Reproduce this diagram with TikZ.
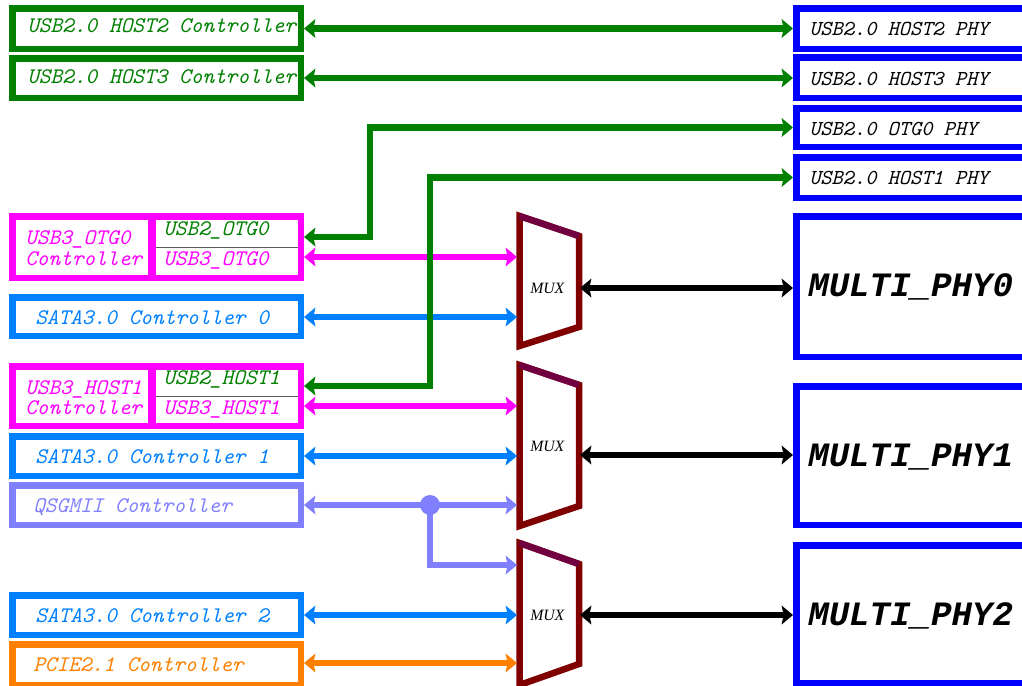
\documentclass[tikz,border=0pt]{standalone}
\usepackage{fontspec}
\setmainfont{Liberation Serif}
\newfontfamily\multifont{Liberation Mono}
\usetikzlibrary{arrows.meta,fit,calc}
\definecolor{ggreen}{RGB}{0,128,0}
\definecolor{mag}{RGB}{255,0,255}
\definecolor{sblue}{RGB}{0,128,255}
\definecolor{lav}{RGB}{128,128,255}
\definecolor{orng}{RGB}{255,128,0}
\definecolor{pblue}{RGB}{0,0,255}
\definecolor{muxred}{RGB}{128,0,0}
\definecolor{muxtop}{RGB}{112,0,64}
\definecolor{divgray}{RGB}{90,90,90}
\tikzset{
  x=0.75pt, y=-0.75pt,
  >={Stealth[length=8.5pt,width=14pt,inset=1.5pt]},
  bx/.style={draw=#1, line width=4.875pt, inner sep=0pt},
  lbl/.style={anchor=base west, inner sep=0pt, text=#1,
    font=\fontsize{16.7}{18}\selectfont\ttfamily\itshape},
  plbl/.style={anchor=base west, inner sep=0pt, text=black,
    font=\fontsize{16}{18}\selectfont\ttfamily\itshape},
  mlbl/.style={anchor=base west, inner sep=0pt, text=black,
    font=\fontsize{25.6}{28}\selectfont\multifont\bfseries\itshape},
  muxlbl/.style={anchor=base west, inner sep=0pt, text=black,
    font=\fontsize{11.8}{13}\selectfont\itshape},
  con/.style={draw=#1, line width=4.875pt},
  muxshape/.style={draw=muxred, line width=4.875pt, line join=miter},
}
\begin{document}
\begin{tikzpicture}
\useasboundingbox (0,0) rectangle (1022,686);
\clip (0,0) rectangle (1022,686);

% ---------- left controller boxes ----------
\node[bx=ggreen, fit={(12.25,8.25) (300.75,48.75)}] (c2) {};
\node[bx=ggreen, fit={(12.25,58.25) (300.75,97.75)}] (c3) {};
\node[bx=mag, fit={(12.25,216.25) (300.75,277.75)}] (otg) {};
\node[bx=sblue, fit={(12.25,297.25) (300.75,335.75)}] (sata0) {};
\node[bx=mag, fit={(12.25,366.25) (300.75,425.75)}] (host1) {};
\node[bx=sblue, fit={(12.25,436.25) (300.75,475.75)}] (sata1) {};
\node[bx=lav, fit={(12.25,485.25) (300.75,524.75)}] (qsg) {};
\node[bx=sblue, fit={(12.25,595.25) (300.75,634.75)}] (sata2) {};
\node[bx=orng, fit={(12.25,644.25) (300.75,685)}] (pcie) {};

% dividers in the USB3 boxes
\draw[mag, line width=6pt] (152,216.25) -- (152,277.75);
\draw[divgray, line width=0.9pt] (156,247.5) -- (298,247.5);
\draw[mag, line width=6pt] (152,366.25) -- (152,425.75);
\draw[divgray, line width=0.9pt] (156,396.5) -- (298,396.5);

% ---------- right PHY boxes ----------
\node[bx=pblue, fit={(796.25,8.25) (1040,48.75)}] (p2) {};
\node[bx=pblue, fit={(796.25,57.25) (1040,97.75)}] (p3) {};
\node[bx=pblue, fit={(796.25,108.25) (1040,146.75)}] (potg) {};
\node[bx=pblue, fit={(796.25,157.25) (1040,197.75)}] (p1) {};
\node[bx=pblue, fit={(796.25,216.25) (1040,356.75)}] (m0) {};
\node[bx=pblue, fit={(796.25,386.25) (1040,524.75)}] (m1) {};
\node[bx=pblue, fit={(796.25,545.25) (1040,682.75)}] (m2) {};

% ---------- texts ----------
\node[lbl=ggreen] (t1) at (27,32.5) {USB2.0 HOST2 Controller};
\node[lbl=ggreen] (t2) at (27,83) {USB2.0 HOST3 Controller};
\node[lbl=mag] (t3) at (25,244) {USB3\_OTG0};
\node[lbl=mag] (t4) at (25,265) {Controller};
\node[lbl=ggreen] (t5) at (163,235) {USB2\_OTG0};
\node[lbl=mag] (t6) at (163,265) {USB3\_OTG0};
\node[lbl=sblue] (t7) at (35,324) {SATA3.0 Controller 0};
\node[lbl=mag] (t8) at (25,394) {USB3\_HOST1};
\node[lbl=mag] (t9) at (25,414.5) {Controller};
\node[lbl=ggreen] (t10) at (163,384.5) {USB2\_HOST1};
\node[lbl=mag] (t11) at (163,414.5) {USB3\_HOST1};
\node[lbl=sblue] (t12) at (35,463.5) {SATA3.0 Controller 1};
\node[lbl=lav] (t13) at (33,512) {QSGMII Controller};
\node[lbl=sblue] (t14) at (35,622.5) {SATA3.0 Controller 2};
\node[lbl=orng] (t15) at (33,671.5) {PCIE2.1 Controller};

\node[plbl] (t16) at (809,35) {USB2.0 HOST2 PHY};
\node[plbl] (t17) at (809,85) {USB2.0 HOST3 PHY};
\node[plbl] (t18) at (809,135) {USB2.0 OTG0 PHY};
\node[plbl] (t19) at (809,184) {USB2.0 HOST1 PHY};
\node[mlbl] (t20) at (808,296.7) {MULTI\_PHY0};
\node[mlbl] (t21) at (808,466.5) {MULTI\_PHY1};
\node[mlbl] (t22) at (808,625) {MULTI\_PHY2};

% ---------- MUX shapes ----------
\draw[muxshape] (519.5,216) -- (579,236) -- (579,327) -- (519.5,346) -- cycle;
\draw[muxtop, line width=4.875pt] (519.5,216) -- (579,236);
\draw[muxshape] (519.5,365) -- (579,385) -- (579,506) -- (519.5,526) -- cycle;
\draw[muxtop, line width=4.875pt] (519.5,365) -- (579,385);
\draw[muxshape] (519.5,543) -- (579,564) -- (579,664) -- (519.5,685) -- cycle;
\draw[muxtop, line width=4.875pt] (519.5,543) -- (579,564);
\node[muxlbl] (mux0) at (530,293.3) {MUX};
\node[muxlbl] (mux1) at (530,451.7) {MUX};
\node[muxlbl] (mux2) at (530,620) {MUX};

% MUX ports
\coordinate (mux0a) at (517,257);
\coordinate (mux0b) at (517,317);
\coordinate (mux1a) at (517,406);
\coordinate (mux1b) at (517,456);
\coordinate (mux1c) at (517,505);
\coordinate (mux2a) at (517,565);
\coordinate (mux2b) at (517,615);
\coordinate (mux2c) at (517,663);
\coordinate (mux0o) at (580,288);
\coordinate (mux1o) at (580,455);
\coordinate (mux2o) at (580,615);
\coordinate (b0) at (370,237);
\coordinate (b1) at (430,386);

% ---------- connectors ----------
\draw[con=mag,<->] (otg.east |- mux0a) -- (mux0a);
\draw[con=sblue,<->] (sata0.east |- mux0b) -- (mux0b);
\draw[con=mag,<->] (host1.east |- mux1a) -- (mux1a);
\draw[con=sblue,<->] (sata1.east |- mux1b) -- (mux1b);
\draw[con=lav,<->] (qsg.east |- mux1c) -- (mux1c);
\node[circle, fill=lav, inner sep=0pt, minimum size=15pt] (dot) at (430,505) {};
\draw[con=lav,->] (dot.center) |- (mux2a);
\draw[con=sblue,<->] (sata2.east |- mux2b) -- (mux2b);
\draw[con=orng,<->] (pcie.east |- mux2c) -- (mux2c);

\draw[con=black,<->] (mux0o) -- (mux0o -| m0.west);
\draw[con=black,<->] (mux1o) -- (mux1o -| m1.west);
\draw[con=black,<->] (mux2o) -- (mux2o -| m2.west);

\draw[con=ggreen,<->] (c2.east) -- (c2.east -| p2.west);
\draw[con=ggreen,<->] (c3.east) -- (c3.east -| p3.west);
\draw[con=ggreen,<->] (potg.west) -| (b0) -- (otg.east |- b0);
\draw[con=ggreen,<->] (p1.west) -| (b1) -- (host1.east |- b1);
\end{tikzpicture}
\end{document}
